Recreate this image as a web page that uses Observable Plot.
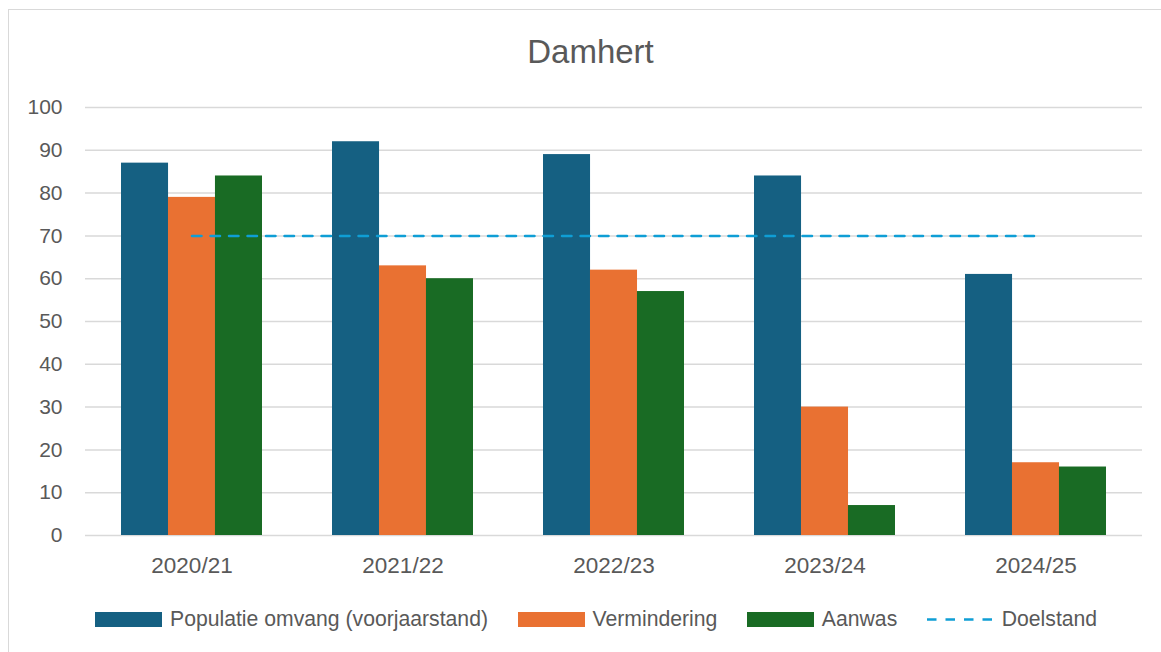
<!DOCTYPE html>
<html>
<head>
<meta charset="utf-8">
<script src="https://cdn.jsdelivr.net/npm/d3@7"></script>
<script src="https://cdn.jsdelivr.net/npm/@observablehq/plot@0.6"></script>
<style>
  html, body { margin: 0; padding: 0; background: #fff; overflow: hidden; width: 1161px; height: 652px; }
  body { position: relative; font-family: "Liberation Sans", Arial, sans-serif; color: #595959; }
  #frame { position: absolute; left: 8px; top: 9px; width: 1200px; height: 700px; border: 1.5px solid #d9d9d9; box-sizing: border-box; }
  #title { position: absolute; left: 0; width: 1181px; top: 33px; text-align: center; font-size: 33px; line-height: 38px; color: #595959; }
  #chart { position: absolute; left: 0; top: 0; }
  #legend { position: absolute; left: 95px; top: 606px; height: 26px; display: flex; align-items: center; font-size: 21.2px; color: #595959; white-space: nowrap; }
  .item { display: flex; align-items: center; margin-right: 29.5px; }
  .sw { width: 67px; height: 15px; margin-right: 8px; }
</style>
</head>
<body>
<div id="frame"></div>
<div id="title">Damhert</div>
<div id="chart"></div>
<div id="legend"></div>
<script>
const seasons = ["2020/21", "2021/22", "2022/23", "2023/24", "2024/25"];
const populatie = [87, 92, 89, 84, 61];
const vermindering = [79, 63, 62, 30, 17];
const aanwas = [84, 60, 57, 7, 16];
const doelstand = [70, 70, 70, 70, 70];
const seriesNames = ["Populatie omvang (voorjaarstand)", "Vermindering", "Aanwas", "Doelstand"];
const colors = ["#156082", "#E97132", "#196B24", "#0F9ED5"];
const yTicks = [0, 10, 20, 30, 40, 50, 60, 70, 80, 90, 100];

const W = 1161, H = 590;
const mL = 85, mR = 19, mT = 107, mB = 55;
const paddingInner = 1/3, paddingOuter = 1/6;
const step = (W - mL - mR) / (seasons.length - paddingInner + 2 * paddingOuter);
const bw = step * (1 - paddingInner);
const third = bw / 3;

const seriesVals = [populatie, vermindering, aanwas];
const bars = seriesVals.map((vals, i) =>
  Plot.barY(seasons.map((s, j) => ({season: s, value: vals[j]})), {
    x: "season", y: "value", fill: colors[i],
    insetLeft: i * third, insetRight: (2 - i) * third
  })
);

const chart = Plot.plot({
  width: W, height: H,
  marginLeft: mL, marginRight: mR, marginTop: mT, marginBottom: mB,
  style: { fontFamily: "Liberation Sans, Arial, sans-serif", fontSize: "21px", color: "#595959", background: "transparent" },
  x: { domain: seasons, paddingInner, paddingOuter, label: null },
  y: { domain: [0, 100], label: null },
  marks: [
    Plot.ruleY(yTicks, { stroke: "#d9d9d9", strokeWidth: 1.5 }),
    ...bars,
    Plot.lineY(seasons.map((s, j) => ({season: s, value: doelstand[j]})), {
      x: "season", y: "value", stroke: colors[3], strokeWidth: 2.5, strokeDasharray: "9.5,9"
    }),
    Plot.axisY({ ticks: yTicks, tickSize: 0, tickPadding: 23, fontSize: 21, fill: "#595959", label: null }),
    Plot.axisX({ tickSize: 0, tickPadding: 22, fontSize: 22.5, fill: "#595959", label: null })
  ]
});
document.getElementById("chart").appendChild(chart);

const legend = document.getElementById("legend");
seriesNames.forEach((name, i) => {
  const item = document.createElement("div");
  item.className = "item";
  if (i < 3) {
    const sw = document.createElement("div");
    sw.className = "sw";
    sw.style.background = colors[i];
    item.appendChild(sw);
  } else {
    const ns = "http://www.w3.org/2000/svg";
    const svg = document.createElementNS(ns, "svg");
    svg.setAttribute("width", 67); svg.setAttribute("height", 15);
    svg.style.marginRight = "8px";
    const ln = document.createElementNS(ns, "line");
    ln.setAttribute("x1", 0); ln.setAttribute("x2", 67);
    ln.setAttribute("y1", 7.5); ln.setAttribute("y2", 7.5);
    ln.setAttribute("stroke", colors[3]); ln.setAttribute("stroke-width", 2.5);
    ln.setAttribute("stroke-dasharray", "9.5,9");
    svg.appendChild(ln);
    item.appendChild(svg);
  }
  const t = document.createElement("span");
  t.textContent = name;
  item.appendChild(t);
  legend.appendChild(item);
});
</script>
</body>
</html>
